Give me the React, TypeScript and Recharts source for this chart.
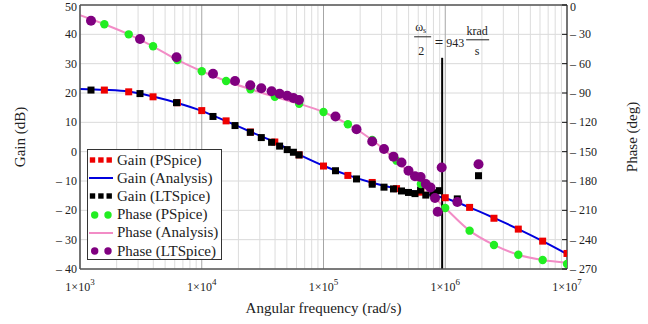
import { ComposedChart, Line, Scatter, XAxis, YAxis, CartesianGrid, ReferenceLine, Legend } from 'recharts';

const SERIF = '"Liberation Serif", "Times New Roman", serif';
const INK = '#222';

/* --- data --- */

// PSpice runs at 5 points per decade
const PS_W = [1585, 2512, 3981, 6310, 10000, 15850, 25120, 39810, 63100, 100000, 158500, 251200, 398100, 631000, 1000000, 1585000, 2512000, 3981000, 6310000, 10000000];
const PS_GAIN = [21.0, 20.4, 18.7, 16.7, 14.0, 10.5, 6.7, 3.3, -1.1, -4.9, -8.1, -10.5, -12.6, -13.8, -15.7, -19.0, -22.7, -26.4, -30.5, -34.7];
const PS_PHASE = [-19.7, -30.0, -42.2, -56.2, -67.8, -77.7, -86.1, -93.9, -101.0, -109.4, -121.9, -138.1, -159.2, -183.1, -207.6, -230.8, -245.4, -255.4, -260.8, -264.9];

// analysis curves
const AN_W = [1000, 1585, 2512, 3981, 6310, 10000, 15850, 25120, 39810, 63100, 100000, 158500, 251200, 398100, 631000, 1000000, 1585000, 2512000, 3981000, 6310000, 10000000];
const AN_GAIN = [21.4, 21.1, 20.5, 18.8, 16.6, 13.9, 10.4, 6.8, 3.2, -1.0, -4.8, -8.0, -10.6, -12.6, -14.0, -15.9, -19.0, -22.6, -26.4, -30.5, -34.9];
const AN_PHASE = [-10.5, -19.7, -30.0, -42.2, -56.2, -67.8, -77.7, -86.1, -93.9, -101.0, -109.4, -121.9, -138.1, -159.2, -183.1, -207.6, -230.8, -245.4, -255.4, -260.8, -263.5];

// LTSpice, uneven sampling
const LT_GAIN_W = [1231, 3110, 6204, 12370, 18760, 25050, 30840, 37470, 43600, 50320, 56600, 62930, 125500, 186700, 251200, 314000, 375700, 437200, 499000, 564200, 627500, 692200, 793200, 823800, 897000, 1256000, 1876000];
const LT_GAIN = [21.0, 19.8, 16.7, 12.0, 8.9, 6.6, 4.8, 3.2, 1.9, 0.7, -0.2, -1.1, -6.5, -9.3, -11.1, -12.1, -12.7, -13.4, -13.9, -14.3, -13.1, -14.8, -14.2, -14.0, -13.3, -16.1, -8.2];
const LT_PHASE_W = [1231, 3110, 6204, 12370, 18760, 25050, 30840, 37470, 43600, 50320, 56600, 62930, 125500, 186700, 251200, 314000, 375700, 437200, 499000, 564200, 627500, 692200, 756800, 823800, 867000, 935000, 1256000, 1876000];
const LT_PHASE = [-16.1, -34.8, -53.5, -70.3, -77.7, -82.1, -85.2, -88.3, -90.8, -92.9, -95.1, -97.2, -114.0, -127.1, -139.6, -147.3, -155.1, -161.1, -169.5, -175.2, -175.9, -183.1, -186.6, -197.4, -211.4, -166.2, -201.5, -162.8];

const HALF_WS = 943000;

const DECADES = [1e3, 1e4, 1e5, 1e6, 1e7];
const MINOR = [2, 3, 4, 5, 6, 7, 8, 9].flatMap((m) => [1e3, 1e4, 1e5, 1e6].map((d) => m * d));
const GAIN_TICKS = [-40, -30, -20, -10, 0, 10, 20, 30, 40, 50];
const PHASE_TICKS = [-270, -240, -210, -180, -150, -120, -90, -60, -30, 0];

const pts = (w: number[], v: number[]) => w.map((x, i) => ({ w: x, v: v[i] }));

const fmtSigned = (v: number) => (v < 0 ? `\u2013 ${-v}` : `${v}`);

/* --- marks --- */

const Square = (color: string) => (p: any) => (
    <rect x={p.cx - 3.5} y={p.cy - 3.5} width={7} height={7} fill={color} />
);
const Dot = (color: string, r: number) => (p: any) => <circle cx={p.cx} cy={p.cy} r={r} fill={color} />;

const gridAt = (vals: number[]) => ({ xAxis, offset }: any) =>
    vals.map((v) =>
        xAxis && typeof xAxis.scale === 'function'
            ? xAxis.scale(v)
            : offset.left + (offset.width * Math.log10(v / 1e3)) / 4
    );

const FreqTick = (p: any) => {
    const exp = Math.round(Math.log10(p.payload.value));
    return (
        <text x={p.x} y={p.y + 20} textAnchor="middle" fontFamily={SERIF} fontSize={12} fill={INK}>
            1×10<tspan fontSize={9} dy={-6}>{exp}</tspan>
        </text>
    );
};

// top label sits right on the frame, nudge it down so it stays inside the page
const labelDy = (v: number, top: number) => (v === top ? 6 : 4);

const PhaseTick = (p: any) => (
    <g>
        <line x1={p.x - 8} x2={p.x - 3} y1={p.y} y2={p.y} stroke="#111" strokeWidth={1} />
        <text x={p.x} y={p.y + labelDy(p.payload.value, 0)} textAnchor="start" fontFamily={SERIF} fontSize={12} fill={INK}>
            {fmtSigned(p.payload.value)}
        </text>
    </g>
);

const GainTick = (p: any) => (
    <text x={p.x} y={p.y + labelDy(p.payload.value, 50)} textAnchor="end" fontFamily={SERIF} fontSize={12} fill={INK}>
        {fmtSigned(p.payload.value)}
    </text>
);

const Annotation = (p: any) => {
    const vb = p.viewBox || { x: 0, y: 0, height: 0 };
    const lx = vb.x;
    const top = Math.min(vb.y, vb.y + (vb.height || 0));
    return (
        <g fontFamily={SERIF} fontSize={12} fill={INK}>
            <text x={lx - 27} y={top - 27}>
                ω<tspan fontSize={8} dy={2}>s</tspan>
            </text>
            <line x1={lx - 28} x2={lx - 11} y1={top - 21} y2={top - 21} stroke={INK} strokeWidth={1} />
            <text x={lx - 21} y={top - 3} textAnchor="middle">2</text>
            <text x={lx - 3} y={top - 11} textAnchor="middle" fontWeight="bold" fontSize={15}>=</text>
            <text x={lx + 4} y={top - 11}>943</text>
            <text x={lx + 35} y={top - 23} textAnchor="middle">krad</text>
            <line x1={lx + 24} x2={lx + 47} y1={top - 18} y2={top - 18} stroke={INK} strokeWidth={1} />
            <text x={lx + 35} y={top - 3} textAnchor="middle">s</text>
        </g>
    );
};

const LEGEND_ROWS = [
    { name: 'Gain (PSpice)', kind: 'squares', color: '#ee0000' },
    { name: 'Gain (Analysis)', kind: 'line', color: '#0000dd' },
    { name: 'Gain (LTSpice)', kind: 'squares', color: '#000000' },
    { name: 'Phase (PSpice)', kind: 'dots', color: '#22ee22' },
    { name: 'Phase (Analysis)', kind: 'line', color: '#f28cc6' },
    { name: 'Phase (LTSpice)', kind: 'dots', color: '#800080' },
];

const LegendBox = () => (
    <div style={{ width: 135, height: 111, border: '1.5px solid #333', background: '#fff', boxSizing: 'border-box', paddingTop: 1 }}>
        {LEGEND_ROWS.map((r) => (
            <div key={r.name} style={{ display: 'flex', alignItems: 'center', height: 18.2 }}>
                <svg width={29} height={18} style={{ flex: 'none' }}>
                    {r.kind === 'squares' && [4.5, 12.9, 21.2].map((c) => <rect key={c} x={c - 2.7} y={6.3} width={5.4} height={5.4} fill={r.color} />)}
                    {r.kind === 'line' && <line x1={1} x2={25} y1={9} y2={9} stroke={r.color} strokeWidth={2} />}
                    {r.kind === 'dots' && [6.7, 20].map((c) => <circle key={c} cx={c} cy={9} r={3.7} fill={r.color} />)}
                </svg>
                <span style={{ fontFamily: SERIF, fontSize: 15, color: INK, whiteSpace: 'nowrap', lineHeight: 1 }}>{r.name}</span>
            </div>
        ))}
    </div>
);

export default function App() {
    return (
        <div style={{ position: 'absolute', left: 0, top: 0, width: 648, height: 324, background: '#fff' }}>
            <ComposedChart width={648} height={324} margin={{ top: 5, right: 0, bottom: 0, left: 0 }}>
                <CartesianGrid yAxisId="gain" vertical={false} stroke="#dadada" strokeWidth={1} />
                <CartesianGrid yAxisId="gain" horizontal={false} verticalCoordinatesGenerator={gridAt(MINOR)} stroke="#dcdcdc" strokeWidth={1} />
                <CartesianGrid yAxisId="gain" horizontal={false} verticalCoordinatesGenerator={gridAt(DECADES)} stroke="#a6a6a6" strokeWidth={1} />
                <XAxis
                    dataKey="w"
                    type="number"
                    scale="log"
                    domain={[1e3, 1e7]}
                    ticks={DECADES}
                    interval={0}
                    allowDataOverflow
                    height={55}
                    stroke="#555"
                    strokeWidth={1.5}
                    tickLine={false}
                    tickSize={0}
                    tick={<FreqTick />}
                    label={{ value: 'Angular frequency (rad/s)', position: 'insideBottom', offset: 11, fontFamily: SERIF, fontSize: 15, fill: INK }}
                />
                <YAxis
                    yAxisId="gain"
                    dataKey="v"
                    type="number"
                    domain={[-40, 50]}
                    ticks={GAIN_TICKS}
                    interval={0}
                    allowDataOverflow
                    width={80}
                    stroke="#555"
                    strokeWidth={1.5}
                    tickLine={false}
                    tickSize={0}
                    tickMargin={3}
                    tick={<GainTick />}
                    label={{ value: 'Gain (dB)', angle: -90, position: 'insideLeft', offset: 20, style: { textAnchor: 'middle' }, fontFamily: SERIF, fontSize: 15, fill: INK }}
                />
                <YAxis
                    yAxisId="phase"
                    orientation="right"
                    dataKey="v"
                    type="number"
                    domain={[-270, 0]}
                    ticks={PHASE_TICKS}
                    interval={0}
                    allowDataOverflow
                    width={81}
                    stroke="#555"
                    strokeWidth={1.5}
                    tickLine={false}
                    tickSize={0}
                    tickMargin={3}
                    tick={<PhaseTick />}
                    label={{ value: 'Phase (deg)', angle: -90, position: 'insideRight', offset: 16, style: { textAnchor: 'middle' }, fontFamily: SERIF, fontSize: 15, fill: INK }}
                />
                <ReferenceLine yAxisId="gain" y={50} stroke="#555" strokeWidth={1.5} />

                <Scatter name="Gain (PSpice)" yAxisId="gain" data={pts(PS_W, PS_GAIN)} shape={Square('#ee0000')} isAnimationActive={false} />
                <Line name="Gain (Analysis)" yAxisId="gain" data={pts(AN_W, AN_GAIN)} dataKey="v" type="monotone" stroke="#0000dd" strokeWidth={2} dot={false} activeDot={false} isAnimationActive={false} />
                <Scatter name="Gain (LTSpice)" yAxisId="gain" data={pts(LT_GAIN_W, LT_GAIN)} shape={Square('#000000')} isAnimationActive={false} />
                <Scatter name="Phase (PSpice)" yAxisId="phase" data={pts(PS_W, PS_PHASE)} shape={Dot('#22ee22', 4.2)} isAnimationActive={false} />
                <Line name="Phase (Analysis)" yAxisId="phase" data={pts(AN_W, AN_PHASE)} dataKey="v" type="monotone" stroke="#f28cc6" strokeWidth={2} dot={false} activeDot={false} isAnimationActive={false} />
                <Scatter name="Phase (LTSpice)" yAxisId="phase" data={pts(LT_PHASE_W, LT_PHASE)} shape={Dot('#800080', 5)} isAnimationActive={false} />

                <ReferenceLine
                    yAxisId="gain"
                    segment={[{ x: HALF_WS, y: 32 }, { x: HALF_WS, y: -40 }]}
                    stroke="#000"
                    strokeWidth={2}
                    label={<Annotation />}
                />
                <Legend
                    layout="vertical"
                    align="center"
                    verticalAlign="middle"
                    content={<LegendBox />}
                    wrapperStyle={{ left: 87, top: 149, width: 135, height: 111 }}
                />
            </ComposedChart>
        </div>
    );
}
